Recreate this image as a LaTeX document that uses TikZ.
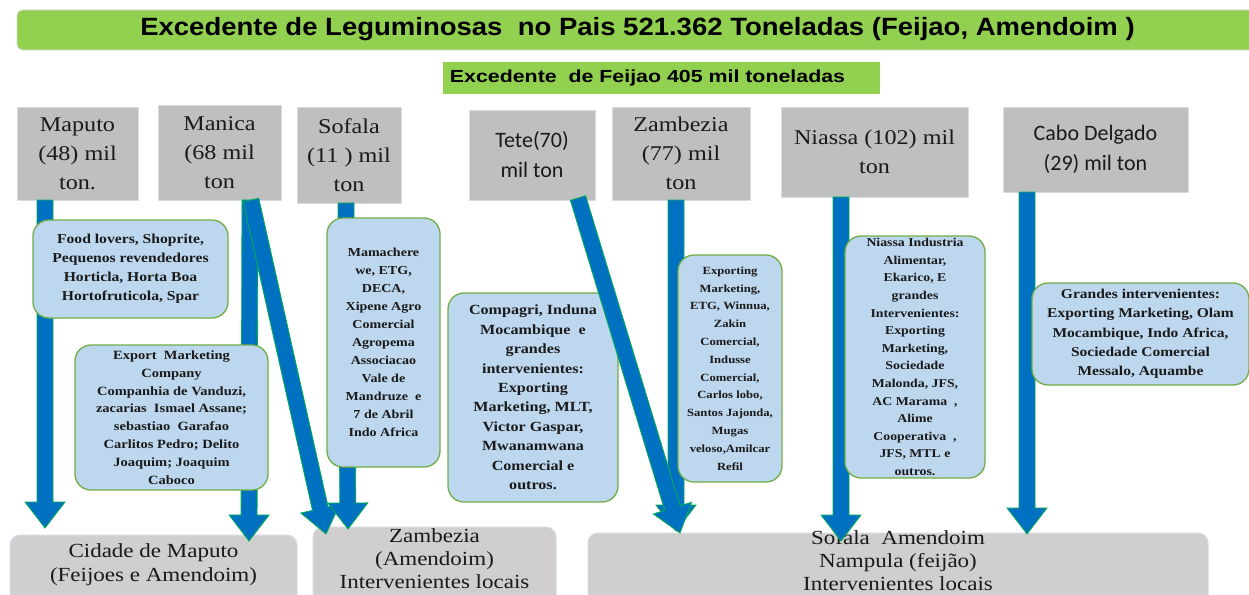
\documentclass[tikz,border=0pt]{standalone}
\usepackage{fontspec}
\usetikzlibrary{calc}
\setmainfont{Liberation Serif}
\newfontfamily\serifw[FakeStretch=1.15]{Liberation Serif}
\newfontfamily\titlesans[FakeStretch=1.1]{Liberation Sans}
\newfontfamily\subsans[FakeStretch=1.22]{Liberation Sans}
\newfontfamily\calib{Carlito}
\definecolor{titlegreen}{HTML}{92D050}
\definecolor{provgray}{HTML}{BFBFBF}
\definecolor{botgray}{HTML}{D0CECE}
\definecolor{boxblue}{HTML}{BDD7EE}
\definecolor{boxgreen}{HTML}{70AD47}
\definecolor{arrblue}{HTML}{0070C0}
\definecolor{arrgreen}{HTML}{00B050}
\definecolor{faint}{HTML}{D6DCE5}
\definecolor{ink}{HTML}{1A1A1A}
\newcommand\blockarr[2]{%
  \coordinate (hb) at ($(#2)!26pt!(#1)$);
  \filldraw[arrowfill] ($(#1)!8pt!90:(#2)$) -- ($(hb)!8pt!90:(#2)$) -- ($(hb)!20pt!90:(#2)$) -- (#2)
    -- ($(hb)!20pt!-90:(#2)$) -- ($(hb)!8pt!-90:(#2)$) -- ($(#1)!8pt!-90:(#2)$) -- cycle;}
\begin{document}
\begin{tikzpicture}[x=1pt,y=-1pt,
  prov/.style={fill=provgray, draw=faint, line width=1pt, inner sep=0pt, align=center, text=ink,
    font=\serifw\fontsize{21}{29}\selectfont},
  provc/.style={prov, font=\calib\fontsize{22}{30}\selectfont},
  botbox/.style={fill=botgray, draw=faint, line width=1pt, rounded corners=10pt, inner sep=0pt},
  bottxt/.style={align=center, text=ink, inner sep=0pt, font=\serifw\fontsize{20}{24}\selectfont},
  tbox/.style={fill=boxblue, draw=boxgreen, line width=1.3pt, rounded corners=16pt, align=center,
    inner sep=0pt, text=ink},
  arrowfill/.style={fill=arrblue, draw=arrgreen, line width=0.8pt, line join=miter},
  greenbar/.style={fill=titlegreen, inner sep=0pt}
]
\clip (0,0) rectangle (1249,594);
\fill[white] (0,0) rectangle (1249,594);

% title
\node[greenbar, draw=black!15, line width=0.8pt, rounded corners=6pt, minimum width=1250pt, minimum height=40pt] (titlebar) at (642,30) {};
\node[inner sep=0pt, text=black, font=\titlesans\bfseries\fontsize{25}{28}\selectfont] (titletxt) at (637.5,29)
  {Excedente de Leguminosas~~no Pais 521.362 Toneladas (Feijao, Amendoim )};
\node[greenbar, minimum width=437pt, minimum height=32pt] (subbar) at (661.5,78) {};
\node[inner sep=0pt, text=black, font=\subsans\bfseries\fontsize{17.5}{20}\selectfont] (subtxt) at (647.5,78)
  {Excedente~~de Feijao 405 mil toneladas};

% province boxes
\node[prov, minimum width=121pt, minimum height=93pt] (maputo) at (77.5,153.5) {Maputo\\(48) mil\\ton.};
\node[prov, minimum width=123pt, minimum height=95pt] (manica) at (219.5,152.5) {Manica\\(68 mil\\ton};
\node[prov, minimum width=104pt, minimum height=96pt] (sofala) at (349,155) {Sofala\\(11 ) mil\\ton};
\node[provc, minimum width=126pt, minimum height=90pt] (tete) at (532,155) {Tete(70)\\mil ton};
\node[prov, minimum width=138pt, minimum height=93pt] (zambezia) at (681,153.5) {Zambezia\\(77) mil\\ton};
\node[prov, minimum width=187pt, minimum height=90pt] (niassa) at (874.5,152) {Niassa (102) mil\\ton};
\node[provc, minimum width=185pt, minimum height=85pt] (cabo) at (1095.5,149.5) {Cabo Delgado\\(29) mil ton};

% bottom boxes
\node[botbox, minimum width=287pt, minimum height=80pt] (cidade) at (153.5,575) {};
\node[bottxt] (cidadetxt) at (153.5,565) {Cidade de Maputo\\(Feijoes e Amendoim)};
\node[botbox, minimum width=243pt, minimum height=80pt] (zambot) at (434.5,567) {};
\node[bottxt, font=\serifw\fontsize{20}{23}\selectfont] (zambottxt) at (434.5,558.5) {Zambezia\\(Amendoim)\\Intervenientes locais};
\node[botbox, minimum width=620pt, minimum height=80pt] (sofbot) at (898,573) {};
\node[bottxt, font=\serifw\fontsize{20}{23}\selectfont] (sofbottxt) at (898,560.5) {Sofala~~Amendoim\\Nampula (feijão)\\Intervenientes locais};

% arrow end points
\coordinate (mapS) at (45,200);   \coordinate (mapE) at (45,528);
\coordinate (manS) at (250,200);  \coordinate (manE) at (249,541);
\coordinate (mandS) at (251,200); \coordinate (mandE) at (326,534);
\coordinate (sofS) at (346,203);  \coordinate (sofE) at (348,529);
\coordinate (teteS) at (578,198); \coordinate (teteE) at (680,533);
\coordinate (zamS) at (676,200);  \coordinate (zamE) at (676,531);
\coordinate (niaS) at (841,197);  \coordinate (niaE) at (841,541);
\coordinate (caboS) at (1027,192);\coordinate (caboE) at (1027,534);

\blockarr{mapS}{mapE}
\blockarr{manS}{manE}
\blockarr{mandS}{mandE}
\blockarr{sofS}{sofE}
\blockarr{zamS}{zamE}
\blockarr{niaS}{niaE}
\blockarr{caboS}{caboE}

% text boxes
\node[tbox, minimum width=195pt, minimum height=98pt, font=\serifw\bfseries\fontsize{13.6}{19}\selectfont] (food) at (130.5,269)
  {Food lovers, Shoprite,\\Pequenos revendedores\\Horticla, Horta Boa\\Hortofruticola, Spar};
\node[tbox, minimum width=193pt, minimum height=145pt, font=\serifw\bfseries\fontsize{12.6}{17.8}\selectfont] (export) at (171.5,417.5)
  {Export~~Marketing\\Company\\Companhia de Vanduzi,\\zacarias~~Ismael Assane;\\sebastiao~~Garafao\\Carlitos Pedro; Delito\\Joaquim; Joaquim\\Caboco};
\node[tbox, minimum width=113pt, minimum height=249pt, font=\serifw\bfseries\fontsize{12.2}{18}\selectfont] (sofbox) at (383.5,342.5)
  {Mamachere\\we, ETG,\\DECA,\\Xipene Agro\\Comercial\\Agropema\\Associacao\\Vale de\\Mandruze~~e\\7 de Abril\\Indo Africa};
\node[tbox, minimum width=170pt, minimum height=209pt, font=\serifw\bfseries\fontsize{14}{19.4}\selectfont] (tetebox) at (533,397.5)
  {Compagri, Induna\\Mocambique~~e\\grandes\\intervenientes:\\Exporting\\Marketing, MLT,\\Victor Gaspar,\\Mwanamwana\\Comercial e\\outros.};
\node[tbox, minimum width=104pt, minimum height=227pt, font=\serifw\bfseries\fontsize{11}{17.8}\selectfont] (zambox) at (730,368.5)
  {Exporting\\Marketing,\\ETG, Winnua,\\Zakin\\Comercial,\\Indusse\\Comercial,\\Carlos lobo,\\Santos Jajonda,\\Mugas\\veloso,Amilcar\\Refil};
\node[tbox, minimum width=140pt, minimum height=242pt, font=\serifw\bfseries\fontsize{12}{17.6}\selectfont] (niabox) at (915,357)
  {Niassa Industria\\Alimentar,\\Ekarico, E\\grandes\\Intervenientes:\\Exporting\\Marketing,\\Sociedade\\Malonda, JFS,\\AC Marama~~,\\Alime\\Cooperativa~~,\\JFS, MTL e\\outros.};
\node[tbox, minimum width=217pt, minimum height=102pt, font=\serifw\bfseries\fontsize{13.5}{19.3}\selectfont] (cabobox) at (1140.5,334)
  {Grandes intervenientes:\\Exporting Marketing, Olam\\Mocambique, Indo Africa,\\Sociedade Comercial\\Messalo, Aquambe};

\blockarr{teteS}{teteE}
\end{tikzpicture}
\end{document}
